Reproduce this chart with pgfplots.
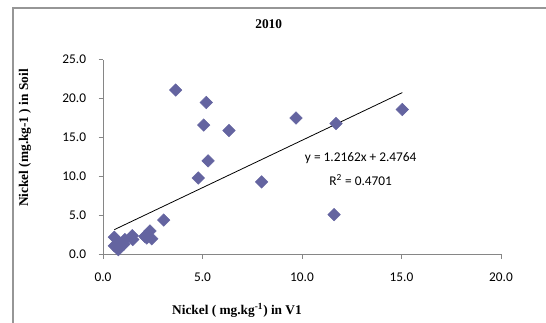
\documentclass[border=0pt]{standalone}
\usepackage{pgfplots}
\pgfplotsset{compat=1.18}
\usepackage{fontspec}
\setmainfont{Liberation Serif}
\newfontfamily\calibri{Carlito}
\definecolor{markfill}{RGB}{100,100,160}
\definecolor{axisgray}{RGB}{134,134,134}
\definecolor{framegray}{RGB}{150,150,150}

\begin{document}
\begin{tikzpicture}
\useasboundingbox (0,0) rectangle (409.5pt,242.25pt);
% chart area frame (top and left edges)
\draw[framegray, line width=1.1pt] (9.75pt,0) -- (9.75pt,236.25pt) -- (409.5pt,236.25pt);

\begin{axis}[
  at={(77.25pt,51.5pt)}, anchor=south west,
  scale only axis,
  width=298.5pt, height=146pt,
  xmin=0, xmax=20, ymin=0, ymax=25,
  xtick={0,5,10,15,20}, ytick={0,5,10,15,20,25},
  axis x line*=bottom, axis y line*=left,
  axis line style={axisgray, line width=0.6pt},
  x axis line style={-}, y axis line style={-},
  tick align=outside, major tick length=3.2pt,
  tick style={axisgray, line width=0.6pt},
  ticklabel style={font=\calibri\fontsize{10}{12}\selectfont},
  /pgf/number format/assume math mode=true,
  /pgf/number format/.cd, fixed, fixed zerofill, precision=1, /pgfplots/.cd,
  xticklabel style={yshift=-7pt},
  yticklabel style={xshift=-6pt},
  clip=false,
]
% observations
\addplot[only marks, mark=square*, mark size=3.3pt,
  mark options={rotate=45, fill=markfill, draw=markfill}]
  coordinates {
  (3.65,21.1) (5.19,19.5) (5.06,16.6) (6.33,15.9) (5.28,12.0) (4.79,9.8)
  (9.70,17.5) (11.71,16.8) (15.04,18.6) (7.97,9.3) (11.61,5.1) (3.05,4.4)
  (0.57,2.2) (0.57,1.1) (0.77,0.6) (0.80,1.5) (1.05,1.3) (1.10,1.9)
  (1.47,2.4) (1.50,1.9) (2.10,2.3) (2.36,3.0) (2.45,2.0) (2.20,2.1)
  };
% linear trendline y = 1.2162x + 2.4764 over the data range
\addplot[black, line width=0.6pt] coordinates {(0.57,3.17) (15.04,20.77)};
\node[font=\calibri\fontsize{10}{12}\selectfont] at (axis cs:12.95,12.42) {y = 1.2162x + 2.4764};
\node[font=\calibri\fontsize{10}{12}\selectfont] at (axis cs:12.95,9.55) {R\textsuperscript{2} = 0.4701};
\end{axis}

\node[font=\bfseries\fontsize{10}{12}\selectfont] at (201.5pt,224.25pt) {2010};
\node[font=\bfseries\fontsize{10}{12}\selectfont] at (177.75pt,9.75pt) {Nickel ( mg.kg\textsuperscript{-1}) in V1};
\node[font=\bfseries\fontsize{10}{12}\selectfont, rotate=90] at (18.75pt,138.75pt) {Nickel (mg.kg-1 ) in Soil};
\end{tikzpicture}
\end{document}
